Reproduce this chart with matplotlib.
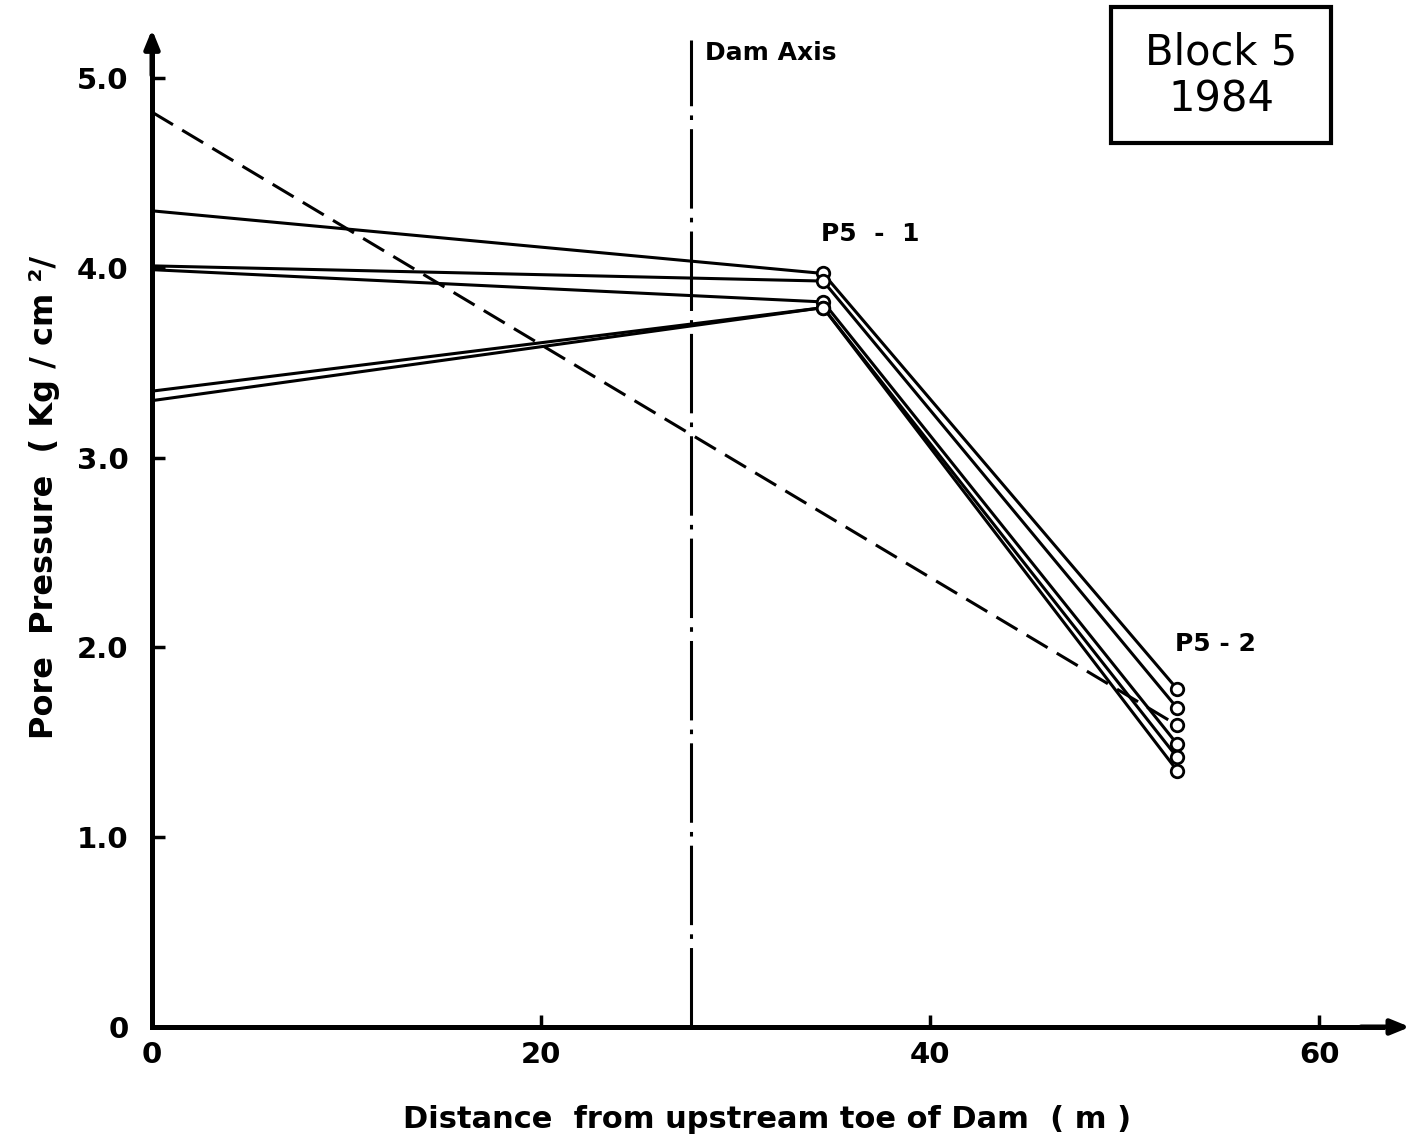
"""Block 5 (1984) pore pressure along the dam section, redrawn from a scanned figure."""
import matplotlib

matplotlib.use("Agg")
import matplotlib.pyplot as plt  # noqa: E402
from matplotlib.patches import Rectangle  # noqa: E402

plt.rcParams["font.family"] = ["DejaVu Sans"]

# piezometer stations (m from upstream toe): upstream face, P5-1, P5-2
stations = [0.0, 34.5, 52.7]
run_a = [4.30, 3.97, 1.78]
run_b = [4.01, 3.93, 1.68]
run_c = [3.99, 3.82, 1.49]
run_d = [3.35, 3.79, 1.42]
run_e = [3.30, 3.79, 1.35]
measured_runs = [run_a, run_b, run_c, run_d, run_e]

# theoretical (dashed) line: upstream head to P5-2 reading
theory_x = [0.0, 52.7]
theory_y = [4.82, 1.59]

dam_axis_x = 27.7
x_ticks = [0, 20, 40, 60]
x_tick_labels = ["0", "20", "40", "60"]
y_ticks = [0, 1, 2, 3, 4, 5]
y_tick_labels = ["0", "1.0", "2.0", "3.0", "4.0", "5.0"]

fig = plt.figure(figsize=(14.1, 11.43), dpi=100)
ax = fig.add_axes([0.1078, 0.1015, 0.8720, 0.8635])
ax.set_xlim(0, 63.2)
ax.set_ylim(0, 5.2)

marker_style = dict(marker="o", ms=9, mfc="white", mec="black", mew=2.0)
for run in measured_runs:
    ax.plot(stations, run, color="black", lw=2.2, markevery=[1, 2],
            zorder=3, **marker_style)
ax.plot(theory_x, theory_y, color="black", lw=2.2, dashes=(8, 3.5), zorder=2)
ax.plot(theory_x[-1], theory_y[-1], zorder=4, **marker_style)

# dam axis
ax.plot([dam_axis_x, dam_axis_x], [0, 5.2], color="black", lw=2.2,
        dashes=(26, 3, 1.5, 3), clip_on=False)
ax.text(dam_axis_x + 0.75, 5.13, "Dam Axis", fontsize=18, fontweight="bold",
        va="center", ha="left")

ax.text(34.4, 4.18, "P5  -  1", fontsize=18, fontweight="bold",
        ha="left", va="center")
ax.text(52.6, 2.02, "P5 - 2", fontsize=18, fontweight="bold",
        ha="left", va="center")

# axes as arrows
for side in ("top", "right"):
    ax.spines[side].set_visible(False)
for side in ("left", "bottom"):
    ax.spines[side].set_linewidth(3.6)
ax.annotate("", xy=(0, 5.27), xytext=(0, 5.0),
            arrowprops=dict(arrowstyle="-|>,head_width=0.45,head_length=1.1",
                            color="black", lw=3.6), annotation_clip=False)
ax.annotate("", xy=(64.8, 0), xytext=(62.0, 0),
            arrowprops=dict(arrowstyle="-|>,head_width=0.45,head_length=1.1",
                            color="black", lw=3.6), annotation_clip=False)

ax.set_xticks(x_ticks)
ax.set_xticklabels(x_tick_labels, fontsize=21, fontweight="bold")
ax.set_yticks(y_ticks)
ax.set_yticklabels(y_tick_labels, fontsize=21, fontweight="bold")
ax.tick_params(direction="in", length=9, width=2.5)
ax.tick_params(axis="y", pad=17)
ax.tick_params(axis="x", pad=10)

ax.set_xlabel("Distance  from upstream toe of Dam  ( m )", fontsize=22,
              fontweight="bold", labelpad=26)
ax.set_ylabel("Pore  Pressure  ( Kg / cm ²/", fontsize=23, fontweight="bold")
ax.yaxis.set_label_coords(-0.075, 0.537)

# title box
fig.patches.append(Rectangle((1111 / 1410, 1 - 143 / 1143), 220 / 1410, 136 / 1143,
                             transform=fig.transFigure, fill=False,
                             lw=3, edgecolor="black"))
fig.text(1221 / 1410, 1 - 76 / 1143, "Block 5\n1984", fontsize=30,
         ha="center", va="center", linespacing=1.15)

fig.savefig("out.png", dpi=100)
